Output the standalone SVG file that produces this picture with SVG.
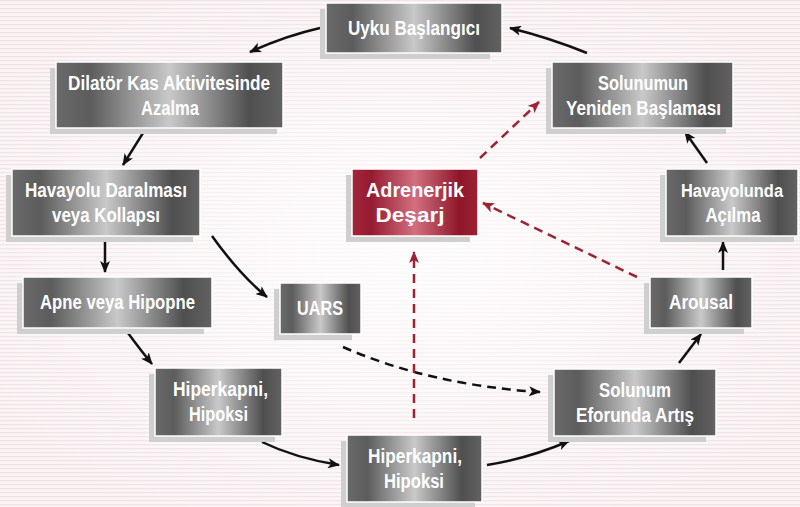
<svg xmlns="http://www.w3.org/2000/svg" width="800" height="507" viewBox="0 0 800 507">
  <defs>
    <pattern id="stripes" width="8" height="4" patternUnits="userSpaceOnUse">
      <rect width="8" height="4" fill="#faf4f5"/>
      <rect y="0" width="8" height="1.3" fill="#f0e1e4"/>
    </pattern>
    <radialGradient id="glow" cx="0.5" cy="0.5" r="0.6">
      <stop offset="0" stop-color="#ffffff" stop-opacity="0.85"/>
      <stop offset="0.6" stop-color="#ffffff" stop-opacity="0.35"/>
      <stop offset="1" stop-color="#ffffff" stop-opacity="0"/>
    </radialGradient>
    <linearGradient id="gray" x1="0" y1="0" x2="1" y2="0">
      <stop offset="0" stop-color="#6a6a6a"/>
      <stop offset="0.15" stop-color="#5c5c5c"/>
      <stop offset="0.5" stop-color="#c9c9c9"/>
      <stop offset="0.85" stop-color="#4f4f4f"/>
      <stop offset="1" stop-color="#626262"/>
    </linearGradient>
    <linearGradient id="red" x1="0" y1="0" x2="1" y2="0">
      <stop offset="0" stop-color="#a3263b"/>
      <stop offset="0.15" stop-color="#951a30"/>
      <stop offset="0.5" stop-color="#d27080"/>
      <stop offset="0.85" stop-color="#8e1629"/>
      <stop offset="1" stop-color="#9c2236"/>
    </linearGradient>
    <marker id="ab" viewBox="0 0 12 10" refX="11" refY="5" markerWidth="12" markerHeight="10" markerUnits="userSpaceOnUse" orient="auto">
      <path d="M0,0 L12,5 L0,10 L3,5 z" fill="#111"/>
    </marker>
    <marker id="ar" viewBox="0 0 12 10" refX="11" refY="5" markerWidth="12" markerHeight="10" markerUnits="userSpaceOnUse" orient="auto">
      <path d="M0,0 L12,5 L0,10 L3,5 z" fill="#9b2335"/>
    </marker>
    <style>
      .shadow { fill: #cfcfcf; }
      .box { fill: url(#gray); stroke: #ffffff; stroke-width: 1.5; }
      .rbox { fill: url(#red); stroke: #ffffff; stroke-width: 1.5; }
      .t { font-family: "Liberation Sans", Arial, sans-serif; font-weight: bold; font-size: 20px; fill: #ffffff; text-anchor: middle; }
      .c { fill: none; stroke: #111; stroke-width: 2.5; }
      .d { fill: none; stroke: #111; stroke-width: 2.5; stroke-dasharray: 9 6; }
      .r { fill: none; stroke: #9b2335; stroke-width: 2.5; stroke-dasharray: 9 6; }
    </style>
  </defs>

  <rect width="800" height="507" fill="url(#stripes)"/>
  <rect width="800" height="507" fill="url(#glow)"/>

  <g id="connectors">
    <path class="c" d="M320,28 Q285,36 250,52" marker-end="url(#ab)"/>
    <path class="c" d="M143,133 L123,165" marker-end="url(#ab)"/>
    <path class="c" d="M105,242 L105,272" marker-end="url(#ab)"/>
    <path class="c" d="M212,236 Q240,275 267,297" marker-end="url(#ab)"/>
    <path class="c" d="M128,333 Q142,352 152,364" marker-end="url(#ab)"/>
    <path class="c" d="M262,442 Q295,458 339,465" marker-end="url(#ab)"/>
    <path class="c" d="M487,465 Q530,458 569,441" marker-end="url(#ab)"/>
    <path class="c" d="M679,363 L701,334" marker-end="url(#ab)"/>
    <path class="c" d="M723,270 L723,242" marker-end="url(#ab)"/>
    <path class="c" d="M707,163 L685,132" marker-end="url(#ab)"/>
    <path class="c" d="M587,53 Q550,38 510,28" marker-end="url(#ab)"/>
    <path class="d" d="M343,347 Q430,385 540,392" marker-end="url(#ab)"/>
    <path class="r" d="M414,418 L414,252" marker-end="url(#ar)"/>
    <path class="r" d="M637,277 L483,203" marker-end="url(#ar)"/>
    <path class="r" d="M480,158 L539,102" marker-end="url(#ar)"/>
  </g>

  <g id="uyku">
    <rect class="shadow" x="320" y="9" width="170" height="50"/>
    <rect class="box" x="326" y="3" width="176" height="50"/>
    <text class="t" x="414" y="35" textLength="132" lengthAdjust="spacingAndGlyphs">Uyku Başlangıcı</text>
  </g>
  <g id="dilator">
    <rect class="shadow" x="50" y="68" width="227" height="66"/>
    <rect class="box" x="56" y="62" width="227" height="66"/>
    <text class="t" x="169" y="90" textLength="202" lengthAdjust="spacingAndGlyphs">Dilatör Kas Aktivitesinde</text>
    <text class="t" x="170" y="115" textLength="58" lengthAdjust="spacingAndGlyphs">Azalma</text>
  </g>
  <g id="havayolu">
    <rect class="shadow" x="6" y="175" width="187" height="67"/>
    <rect class="box" x="12" y="169" width="188" height="67"/>
    <text class="t" x="106" y="197" textLength="162" lengthAdjust="spacingAndGlyphs">Havayolu Daralması</text>
    <text class="t" x="106" y="222" textLength="108" lengthAdjust="spacingAndGlyphs">veya Kollapsı</text>
  </g>
  <g id="apne">
    <rect class="shadow" x="17" y="283" width="187" height="51"/>
    <rect class="box" x="23" y="277" width="189" height="51"/>
    <text class="t" x="117.5" y="309" textLength="155" lengthAdjust="spacingAndGlyphs">Apne veya Hipopne</text>
  </g>
  <g id="uars">
    <rect class="shadow" x="274" y="289" width="78" height="51"/>
    <rect class="box" x="280" y="283" width="81" height="51"/>
    <text class="t" x="320" y="315" textLength="46" lengthAdjust="spacingAndGlyphs">UARS</text>
  </g>
  <g id="adrenerjik">
    <rect class="shadow" x="346" y="175" width="124" height="67"/>
    <rect class="rbox" x="352" y="169" width="126" height="67"/>
    <text class="t" x="415" y="197" textLength="98" lengthAdjust="spacingAndGlyphs">Adrenerjik</text>
    <text class="t" x="410" y="222" textLength="69" lengthAdjust="spacingAndGlyphs">Deşarj</text>
  </g>
  <g id="solunumun">
    <rect class="shadow" x="546" y="68" width="180" height="66"/>
    <rect class="box" x="552" y="62" width="181" height="66"/>
    <text class="t" x="643" y="90" textLength="90" lengthAdjust="spacingAndGlyphs">Solunumun</text>
    <text class="t" x="643.5" y="115" textLength="155" lengthAdjust="spacingAndGlyphs">Yeniden Başlaması</text>
  </g>
  <g id="havayolunda">
    <rect class="shadow" x="660" y="175" width="134" height="67"/>
    <rect class="box" x="666" y="169" width="132" height="67"/>
    <text class="t" x="732" y="197" font-size="18" textLength="102" lengthAdjust="spacingAndGlyphs" style="font-size:18px">Havayolunda</text>
    <text class="t" x="733" y="222" textLength="55" lengthAdjust="spacingAndGlyphs">Açılma</text>
  </g>
  <g id="arousal">
    <rect class="shadow" x="644" y="283" width="100" height="51"/>
    <rect class="box" x="650" y="277" width="102" height="51"/>
    <text class="t" x="701" y="309" textLength="64" lengthAdjust="spacingAndGlyphs">Arousal</text>
  </g>
  <g id="solunum-efor">
    <rect class="shadow" x="548" y="375" width="158" height="67"/>
    <rect class="box" x="554" y="369" width="162" height="67"/>
    <text class="t" x="635" y="397" textLength="72" lengthAdjust="spacingAndGlyphs">Solunum</text>
    <text class="t" x="635" y="422" textLength="118" lengthAdjust="spacingAndGlyphs">Eforunda Artış</text>
  </g>
  <g id="hiperkapni1">
    <rect class="shadow" x="149" y="374" width="126" height="68"/>
    <rect class="box" x="155" y="368" width="127" height="68"/>
    <text class="t" x="220.5" y="396" textLength="95" lengthAdjust="spacingAndGlyphs">Hiperkapni,</text>
    <text class="t" x="218.5" y="421" textLength="59" lengthAdjust="spacingAndGlyphs">Hipoksi</text>
  </g>
  <g id="hiperkapni2">
    <rect class="shadow" x="341" y="441" width="134" height="66"/>
    <rect class="box" x="347" y="435" width="135" height="67"/>
    <text class="t" x="415" y="463" textLength="94" lengthAdjust="spacingAndGlyphs">Hiperkapni,</text>
    <text class="t" x="414" y="488" textLength="60" lengthAdjust="spacingAndGlyphs">Hipoksi</text>
  </g>
</svg>
